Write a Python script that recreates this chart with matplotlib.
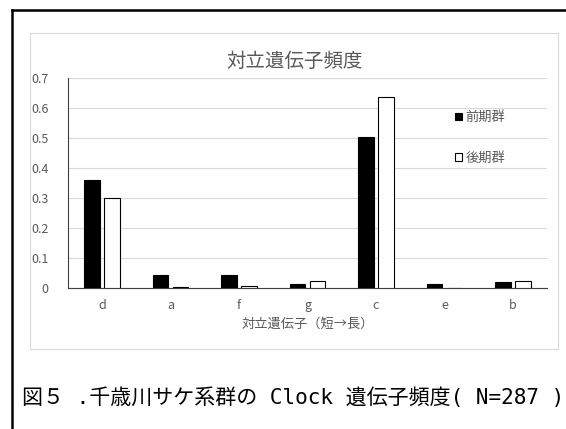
#%% IMPORTS
import numpy as np
import matplotlib.pyplot as plt
from matplotlib.lines import Line2D
from matplotlib.patches import Rectangle

plt.rcParams['font.family'] = ['Noto Sans CJK JP', 'DejaVu Sans']

#%% DATA
alleles = ['d', 'a', 'f', 'g', 'c', 'e', 'b']
early = [0.36, 0.042, 0.042, 0.012, 0.503, 0.012, 0.019]   # 前期群
late = [0.30, 0.004, 0.007, 0.022, 0.636, 0.0, 0.022]      # 後期群
yticks = [0, 0.1, 0.2, 0.3, 0.4, 0.5, 0.6, 0.7]
ytick_labels = ['0', '0.1', '0.2', '0.3', '0.4', '0.5', '0.6', '0.7']

GRAY = '#595959'
W, H = 566, 429

#%% PLOT
fig = plt.figure(figsize=(W / 100, H / 100), dpi=100)

# outer frame, open to the right and bottom
fig.add_artist(Line2D([12 / W, 1.0], [1 - 10 / H, 1 - 10 / H], color='black', lw=1.8))
fig.add_artist(Line2D([12 / W, 12 / W], [0.0, 1 - 10 / H], color='black', lw=1.8))

# chart box
fig.add_artist(Rectangle((30 / W, 1 - 349 / H), (558 - 30) / W, (349 - 33) / H,
                         fill=False, edgecolor='#d9d9d9', lw=0.8))

ax = fig.add_axes([68 / W, 1 - 288 / H, (547 - 68) / W, (288 - 78) / H])

x = np.arange(len(alleles))
bw = 0.227
off = 0.146
b1 = ax.bar(x - off, early, bw, color='black', edgecolor='black', lw=0.8, label='前期群', zorder=3)
b2 = ax.bar(x + off, late, bw, color='white', edgecolor='black', lw=0.8, label='後期群', zorder=3)

ax.set_xlim(-0.5, len(alleles) - 0.5)
ax.set_ylim(0, 0.7)
ax.set_yticks(yticks)
ax.set_yticklabels(ytick_labels)
ax.set_xticks(x)
ax.set_xticklabels(alleles)
ax.tick_params(length=0, labelsize=9, labelcolor=GRAY)
ax.tick_params(axis='y', pad=14)
ax.tick_params(axis='x', pad=8)
ax.yaxis.grid(True, color='#d9d9d9', lw=0.8)
ax.set_axisbelow(True)

for s in ['top', 'right']:
    ax.spines[s].set_visible(False)
ax.spines['left'].set_color('#404040')
ax.spines['bottom'].set_color('#404040')
ax.spines['left'].set_linewidth(0.8)
ax.spines['bottom'].set_linewidth(0.8)

ax.set_xlabel('対立遺伝子（短→長）', fontsize=9.5, color=GRAY, labelpad=4)

fig.text(295 / W, 1 - 61 / H, '対立遺伝子頻度', fontsize=14, color=GRAY,
         ha='center', va='center')

leg = ax.legend(handles=[b1, b2], loc='upper left', bbox_to_anchor=(455 / W, 1 - 111 / H),
                bbox_transform=fig.transFigure, frameon=False, fontsize=9.5,
                handlelength=0.5, handleheight=0.5, handletextpad=0.3,
                labelspacing=2.1, borderpad=0, borderaxespad=0)
for t in leg.get_texts():
    t.set_color(GRAY)

# caption: monospaced latin, CJK from Noto
fig.text(22 / W, 1 - 398 / H, '図５ .千歳川サケ系群の Clock 遺伝子頻度( N=287 )',
         fontsize=15.1, color='black', ha='left', va='center',
         family=['DejaVu Sans Mono', 'Noto Sans CJK JP'])

plt.savefig('out.png', dpi=100)
